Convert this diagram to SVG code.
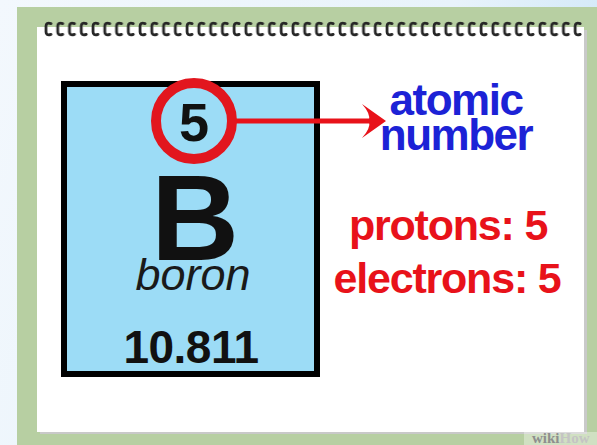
<svg xmlns="http://www.w3.org/2000/svg" width="597" height="445" viewBox="0 0 597 445">
<defs>
<linearGradient id="bg" x1="0" y1="0" x2="1" y2="0.3">
<stop offset="0" stop-color="#f3f8fd"/>
<stop offset="0.7" stop-color="#e8f3fb"/>
<stop offset="1" stop-color="#cfe7f8"/>
</linearGradient>
<pattern id="coil" x="42" y="20" width="11.76" height="17" patternUnits="userSpaceOnUse">
<path d="M9,3.6 C5.5,2.4 4,3.6 4,6 L4,12 C4,14.4 5.5,15.6 9,14.4" fill="none" stroke="#262626" stroke-width="2.8" stroke-linecap="round"/>
<path d="M5.4,6.5 L5.4,11.5" stroke="#9a9a9a" stroke-width="0.8"/>
</pattern>
<style>
.sans{font-family:"Liberation Sans",Arial,Helvetica,sans-serif}
.bold{font-weight:bold}
.blue{fill:#1c22d6}
.red{fill:#e8121a}
.dark{fill:#111}
</style>
</defs>
<rect x="0" y="0" width="597" height="445" fill="url(#bg)"/>
<rect x="17" y="7" width="580" height="438" fill="#b7cfa2"/>
<rect x="40" y="30" width="547" height="404" fill="#c9c9c9"/>
<rect x="37" y="27" width="547" height="405" fill="#ffffff"/>
<rect x="42" y="20" width="541" height="17" fill="url(#coil)"/>

<g id="element">
<rect x="64" y="84" width="253" height="290" fill="#9cdcf6" stroke="#000" stroke-width="6"/>
<text class="sans bold dark" x="195" y="260" font-size="122" text-anchor="middle">B</text>
<text class="sans" x="193" y="290" font-size="45" font-style="italic" fill="#1a1a1a" text-anchor="middle">boron</text>
<text class="sans bold dark" x="191" y="363" font-size="46" text-anchor="middle" letter-spacing="-0.5">10.811</text>
</g>

<g id="atomic-number-circle">
<circle cx="194" cy="121" r="38" fill="none" stroke="#e2161e" stroke-width="10"/>
<text class="sans bold dark" x="194" y="141" font-size="54" text-anchor="middle">5</text>
</g>

<g id="connectors">
<line x1="236" y1="121" x2="370" y2="121" stroke="#e8121a" stroke-width="5"/>
<path d="M386,121 L362,104 Q371,114 369,121 Q371,128 362,138 Z" fill="#e8121a"/>
</g>

<g id="label">
<text class="sans bold blue" x="456" y="115" font-size="44" text-anchor="middle" letter-spacing="-1.5">atomic</text>
<text class="sans bold blue" x="456" y="150" font-size="44" text-anchor="middle" letter-spacing="-1.5">number</text>
</g>

<g id="counts">
<text class="sans bold red" x="448" y="240" font-size="43" text-anchor="middle" letter-spacing="-1.2">protons: 5</text>
<text class="sans bold red" x="447" y="293" font-size="43" text-anchor="middle" letter-spacing="-1.2">electrons: 5</text>
</g>

<g id="watermark">
<rect x="524" y="432" width="73" height="13" fill="#ffffff" opacity="0.35"/>
<text x="532" y="443" font-family="'Liberation Serif',serif" font-weight="bold" font-size="15" fill="#8e8e8e">wiki<tspan fill="#c4c4c4">How</tspan></text>
</g>
</svg>
